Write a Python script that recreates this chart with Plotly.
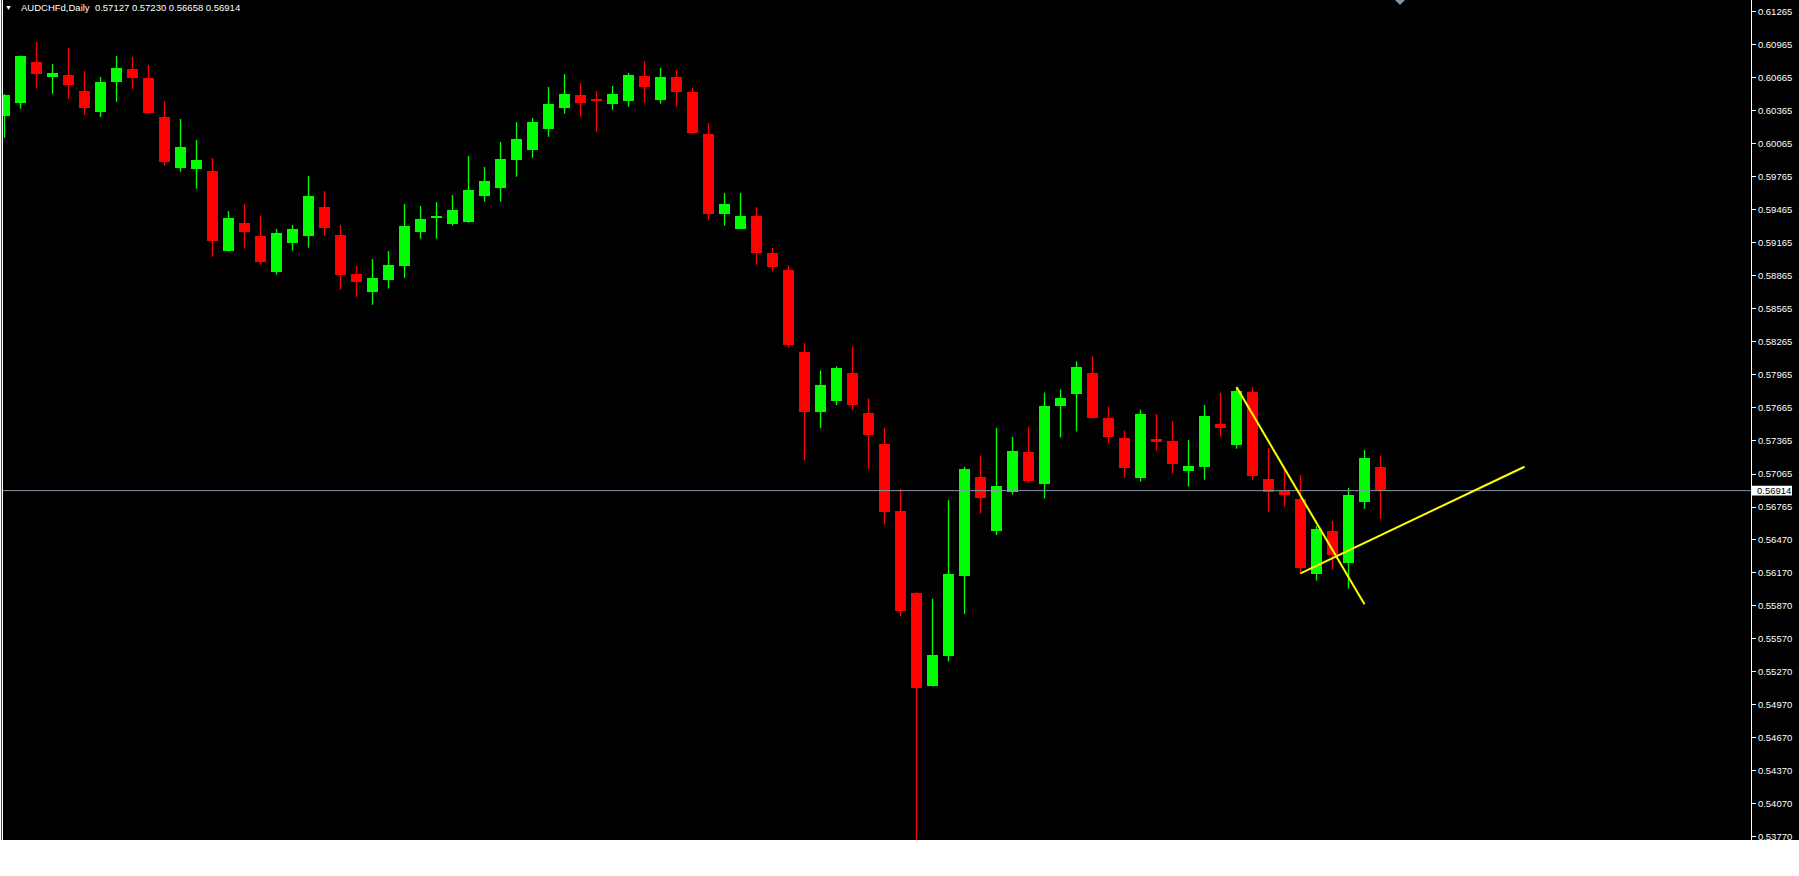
import plotly.graph_objects as go

# ---------------- data (AUDCHFd, Daily) ----------------
opens = [0.60320, 0.60438, 0.60808, 0.60675, 0.60690, 0.60545, 0.60357, 0.60629, 0.60744, 0.60663,
         0.60308, 0.59848, 0.59839, 0.59818, 0.59094, 0.59345, 0.59227, 0.58903, 0.59166, 0.59230,
         0.59491, 0.59236, 0.58882, 0.58721, 0.58830, 0.58957, 0.59266, 0.59394, 0.59339, 0.59357,
         0.59593, 0.59666, 0.59920, 0.60011, 0.60202, 0.60393, 0.60508, 0.60472, 0.60429, 0.60456,
         0.60681, 0.60466, 0.60672, 0.60536, 0.60154, 0.59430, 0.59294, 0.59409, 0.59073, 0.58918,
         0.58170, 0.57625, 0.57726, 0.57981, 0.57616, 0.57341, 0.56728, 0.55988, 0.55140, 0.55414,
         0.56135, 0.57038, 0.56549, 0.56904, 0.57267, 0.56970, 0.57680, 0.57792, 0.57987, 0.57577,
         0.57394, 0.57031, 0.57383, 0.57365, 0.57095, 0.57131, 0.57519, 0.57331, 0.57810, 0.57020,
         0.56913, 0.56838, 0.56159, 0.56547, 0.56259, 0.56813, 0.57127]
highs = [0.60517, 0.60866, 0.60990, 0.60790, 0.60935, 0.60726, 0.60672, 0.60863, 0.60853, 0.60781,
         0.60454, 0.60290, 0.60099, 0.59936, 0.59454, 0.59518, 0.59409, 0.59291, 0.59327, 0.59772,
         0.59636, 0.59327, 0.58955, 0.59018, 0.59091, 0.59518, 0.59500, 0.59536, 0.59600, 0.59954,
         0.59854, 0.60081, 0.60263, 0.60299, 0.60581, 0.60699, 0.60617, 0.60545, 0.60590, 0.60708,
         0.60817, 0.60754, 0.60735, 0.60572, 0.60254, 0.59618, 0.59618, 0.59491, 0.59118, 0.58964,
         0.58254, 0.58006, 0.58043, 0.58225, 0.57752, 0.57485, 0.56931, 0.55995, 0.55932, 0.56830,
         0.57130, 0.57230, 0.57485, 0.57403, 0.57495, 0.57805, 0.57834, 0.58088, 0.58133, 0.57677,
         0.57458, 0.57651, 0.57610, 0.57547, 0.57374, 0.57692, 0.57801, 0.57855, 0.57855, 0.57301,
         0.57129, 0.57056, 0.56593, 0.56638, 0.56938, 0.57283, 0.57230]
lows = [0.60120, 0.60384, 0.60575, 0.60520, 0.60472, 0.60327, 0.60308, 0.60447, 0.60563, 0.60338,
        0.59866, 0.59811, 0.59657, 0.59039, 0.59085, 0.59121, 0.58967, 0.58876, 0.59094, 0.59121,
        0.59230, 0.58739, 0.58676, 0.58603, 0.58749, 0.58848, 0.59203, 0.59203, 0.59321, 0.59348,
        0.59539, 0.59539, 0.59766, 0.59939, 0.60129, 0.60338, 0.60311, 0.60175, 0.60375, 0.60402,
        0.60438, 0.60429, 0.60402, 0.60157, 0.59375, 0.59321, 0.59290, 0.58967, 0.58903, 0.58212,
        0.57188, 0.57481, 0.57690, 0.57645, 0.57107, 0.56604, 0.55776, 0.53400, 0.55134, 0.55362,
        0.55792, 0.56705, 0.56510, 0.56878, 0.56986, 0.56843, 0.57397, 0.57452, 0.57570, 0.57345,
        0.57031, 0.56996, 0.57277, 0.57068, 0.56950, 0.57013, 0.57404, 0.57295, 0.57013, 0.56723,
        0.56768, 0.56163, 0.56096, 0.56196, 0.56023, 0.56750, 0.56658]
closes = [0.60508, 0.60863, 0.60702, 0.60708, 0.60599, 0.60393, 0.60626, 0.60754, 0.60665, 0.60345,
          0.59902, 0.60036, 0.59918, 0.59185, 0.59391, 0.59266, 0.58994, 0.59255, 0.59291, 0.59591,
          0.59303, 0.58876, 0.58812, 0.58846, 0.58964, 0.59318, 0.59382, 0.59409, 0.59464, 0.59645,
          0.59727, 0.59927, 0.60109, 0.60263, 0.60426, 0.60517, 0.60438, 0.60456, 0.60517, 0.60690,
          0.60584, 0.60672, 0.60538, 0.60166, 0.59430, 0.59518, 0.59409, 0.59076, 0.58948, 0.58240,
          0.57625, 0.57870, 0.58026, 0.57690, 0.57417, 0.56722, 0.55819, 0.55124, 0.55423, 0.56154,
          0.57113, 0.56843, 0.56957, 0.57276, 0.57005, 0.57687, 0.57759, 0.58033, 0.57573, 0.57397,
          0.57116, 0.57606, 0.57359, 0.57159, 0.57138, 0.57592, 0.57486, 0.57819, 0.57050, 0.56904,
          0.56877, 0.56214, 0.56565, 0.56332, 0.56874, 0.57210, 0.56914]

price_ticks = [0.61265, 0.60965, 0.60665, 0.60365, 0.60065, 0.59765, 0.59465, 0.59165, 0.58865,
               0.58565, 0.58265, 0.57965, 0.57665, 0.57365, 0.57065, 0.56765, 0.56470, 0.56170,
               0.55870, 0.55570, 0.55270, 0.54970, 0.54670, 0.54370, 0.54070, 0.53770]

# trend lines: (bar index, price) start/end
trend1_x = [77, 85]
trend1_y = [0.57855, 0.55881]
trend2_x = [81, 95]
trend2_y = [0.56163, 0.57131]

symbol = "AUDCHFd,Daily"
last_price = closes[-1]

# ---------------- layout geometry ----------------
W, H = 1799, 876
ML, MR, MT, MB = 0, 48, 0, 36
PW, PH = W - ML - MR, H - MT - MB
X_RANGE = [-0.28125, 109.15625]
Y_RANGE = [0.53740, 0.613713]
px_per_price = PH / (Y_RANGE[1] - Y_RANGE[0])

GREEN = "#00FF00"
RED = "#FF0000"
FONT = "Liberation Sans"

idx = list(range(len(opens)))
up = [i for i in idx if closes[i] >= opens[i]]
dn = [i for i in idx if closes[i] < opens[i]]

min_body = 1.0 / px_per_price


def wicks(ids):
    xs, ys = [], []
    for i in ids:
        xs += [i, i, None]
        ys += [lows[i], highs[i], None]
    return xs, ys


fig = go.Figure()
for ids, col in ((up, GREEN), (dn, RED)):
    wx, wy = wicks(ids)
    fig.add_trace(go.Scatter(x=wx, y=wy, mode="lines", line=dict(color=col, width=1.3),
                             hoverinfo="skip", showlegend=False))
    fig.add_trace(go.Bar(x=ids,
                         base=[min(opens[i], closes[i]) for i in ids],
                         y=[max(abs(closes[i] - opens[i]), min_body) for i in ids],
                         width=0.69,
                         marker=dict(color=col, line=dict(width=0)),
                         showlegend=False, hoverinfo="skip"))

shapes = []
# right price-scale background
shapes.append(dict(type="rect", xref="paper", yref="paper", x0=1, x1=W / PW, y0=0, y1=1,
                   fillcolor="black", line=dict(width=0), layer="below"))
# current price line
shapes.append(dict(type="line", xref="paper", yref="y", x0=0, x1=1, y0=last_price, y1=last_price,
                   line=dict(color="#8796A5", width=1)))
# trend lines
shapes.append(dict(type="line", xref="x", yref="y", x0=trend1_x[0], x1=trend1_x[1],
                   y0=trend1_y[0], y1=trend1_y[1], line=dict(color="#FFFF00", width=2)))
shapes.append(dict(type="line", xref="x", yref="y", x0=trend2_x[0], x1=trend2_x[1],
                   y0=trend2_y[0], y1=trend2_y[1], line=dict(color="#FFFF00", width=2)))
# left window border
for px_x, col in ((0.5, "#FFFFFF"), (1.5, "#555555"), (2.5, "#FFFFFF")):
    shapes.append(dict(type="line", xref="paper", yref="paper", x0=px_x / PW, x1=px_x / PW,
                       y0=0, y1=1, line=dict(color=col, width=1)))
# chart shift marker at top
cx = 1400 / PW
hw = 5 / PW
shapes.append(dict(type="path", xref="paper", yref="paper",
                   path=f"M {cx - hw},1 L {cx + hw},1 L {cx},{1 - 5 / PH} Z",
                   fillcolor="#8397A8", line=dict(width=0)))
# current price label box
half_h = 4.8 / px_per_price
shapes.append(dict(type="rect", xref="paper", yref="y", x0=(PW + 1) / PW, x1=(PW + 41) / PW,
                   y0=last_price - half_h, y1=last_price + half_h,
                   fillcolor="white", line=dict(width=0)))

annotations = [
    dict(xref="paper", yref="paper", x=8.7 / PW, y=1 - 7.5 / PH, xanchor="center", yanchor="middle",
         text="▼", showarrow=False, font=dict(family=FONT, size=7, color="white")),
    dict(xref="paper", yref="paper", x=19 / PW, y=1 - 7.5 / PH, xanchor="left", yanchor="middle",
         text=f"{symbol}  {opens[-1]:.5f} {highs[-1]:.5f} {lows[-1]:.5f} {closes[-1]:.5f}",
         showarrow=False, font=dict(family=FONT, size=9.5, color="white")),
    dict(xref="paper", yref="y", x=(PW + 5) / PW, y=last_price, xanchor="left", yanchor="middle",
         text=f"{last_price:.5f}", showarrow=False, borderpad=0,
         font=dict(family=FONT, size=9.5, color="black")),
]

fig.update_layout(
    width=W, height=H, autosize=False,
    margin=dict(l=ML, r=MR, t=MT, b=MB, pad=0),
    paper_bgcolor="white", plot_bgcolor="black",
    barmode="overlay", bargap=0,
    showlegend=False,
    shapes=shapes, annotations=annotations,
    xaxis=dict(range=X_RANGE, visible=False, fixedrange=True),
    yaxis=dict(range=Y_RANGE, side="right", tickvals=price_ticks, tickformat=".5f",
               ticks="outside", ticklen=4, tickcolor="white", tickwidth=1,
               showline=True, linecolor="white", linewidth=1,
               showgrid=False, zeroline=False,
               tickfont=dict(family=FONT, size=9.5, color="white")),
)

fig.write_html("out.html", config={"displayModeBar": False},
               post_script="document.body.style.margin='0';document.body.style.overflow='hidden';")
